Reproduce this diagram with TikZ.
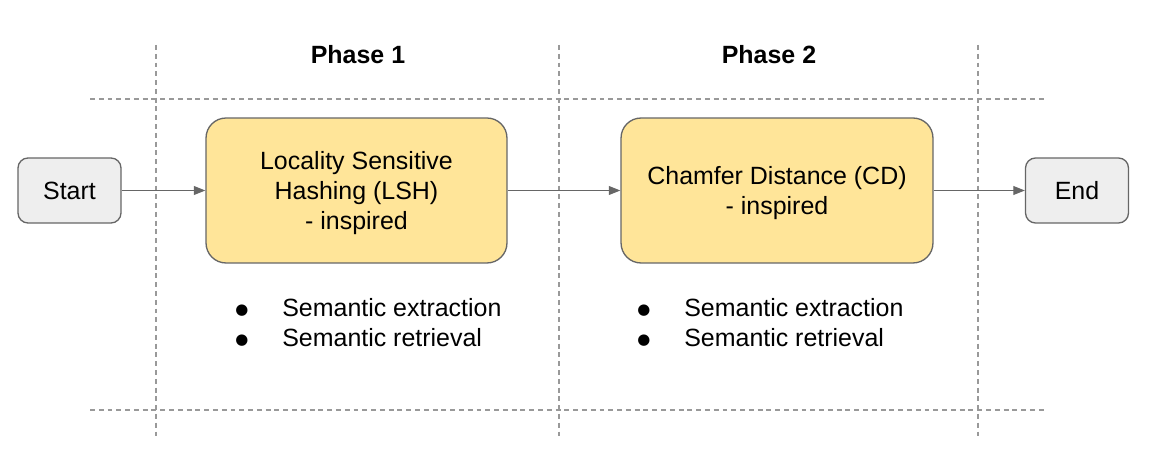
\documentclass[tikz,border=0pt]{standalone}
\usepackage{fontspec}
\setmainfont{Liberation Sans}
\newfontfamily\symfont{DejaVu Sans}
\usetikzlibrary{positioning,arrows.meta}

\definecolor{phaseyellow}{HTML}{FFE599}
\definecolor{termgray}{HTML}{EEEEEE}
\definecolor{edgegray}{HTML}{666666}
\definecolor{gridgray}{HTML}{999999}

\tikzset{
	termbox/.style={draw=edgegray,fill=termgray,rounded corners=0.2cm,line width=0.75pt,
		minimum width=2.06cm,minimum height=1.3cm},
	phasebox/.style={draw=edgegray,fill=phaseyellow,rounded corners=0.4cm,line width=0.75pt,
		minimum height=2.9cm},
	flow/.style={draw=edgegray,line width=0.6pt,-{Triangle[length=6.5pt,width=5pt]}},
	divider/.style={draw=gridgray,line width=0.6pt,dash pattern=on 2.8pt off 2.2pt},
	phasetitle/.style={font=\fontsize{14.2}{17}\selectfont\bfseries},
	bulletlist/.style={anchor=north west,align=left,inner sep=0pt}
}

\newcommand{\boxlines}[1]{\raisebox{-1.8pt}[\height][\depth]{\begin{tabular}{@{}c@{}}#1\end{tabular}}}
\newcommand{\itemrow}[1]{\makebox[0.94cm][l]{\raisebox{1.3pt}{\symfont\fontsize{8.5}{10}\selectfont ●}}#1}

\begin{document}
\begin{tikzpicture}[x=0.02cm,y=-0.02cm,font=\fontsize{14.2}{17}\selectfont]

	\useasboundingbox (0,0) rectangle (1149,465);

	% Phase grid
	\foreach \gx in {156,559,978}
		\draw[divider] (\gx,45) -- (\gx,440);
	\foreach \gy in {99,410}
		\draw[divider] (90,\gy) -- (1045,\gy);

	% Titles
	\node[phasetitle] (title1) at (358,55) {Phase 1};
	\node[phasetitle] (title2) at (769,55) {Phase 2};

	% Flow
	\node[termbox] (start) at (69.5,190.5) {Start};
	\node[phasebox,minimum width=6.02cm] (lsh) at (356.5,190.5)
		{\boxlines{Locality Sensitive\\Hashing (LSH)\\- inspired}};
	\node[phasebox,minimum width=6.24cm] (cd) at (777,190.5)
		{\boxlines{Chamfer Distance (CD)\\- inspired}};
	\node[termbox] (end) at (1077,190.5) {End};

	\draw[flow] (start) -- (lsh);
	\draw[flow] (lsh) -- (cd);
	\draw[flow] (cd) -- (end);

	% Bullet lists
	\node[bulletlist] (list1) at (235,298)
		{\itemrow{Semantic extraction}\\\itemrow{Semantic retrieval}};
	\node[bulletlist] (list2) at (637,298)
		{\itemrow{Semantic extraction}\\\itemrow{Semantic retrieval}};

\end{tikzpicture}
\end{document}
